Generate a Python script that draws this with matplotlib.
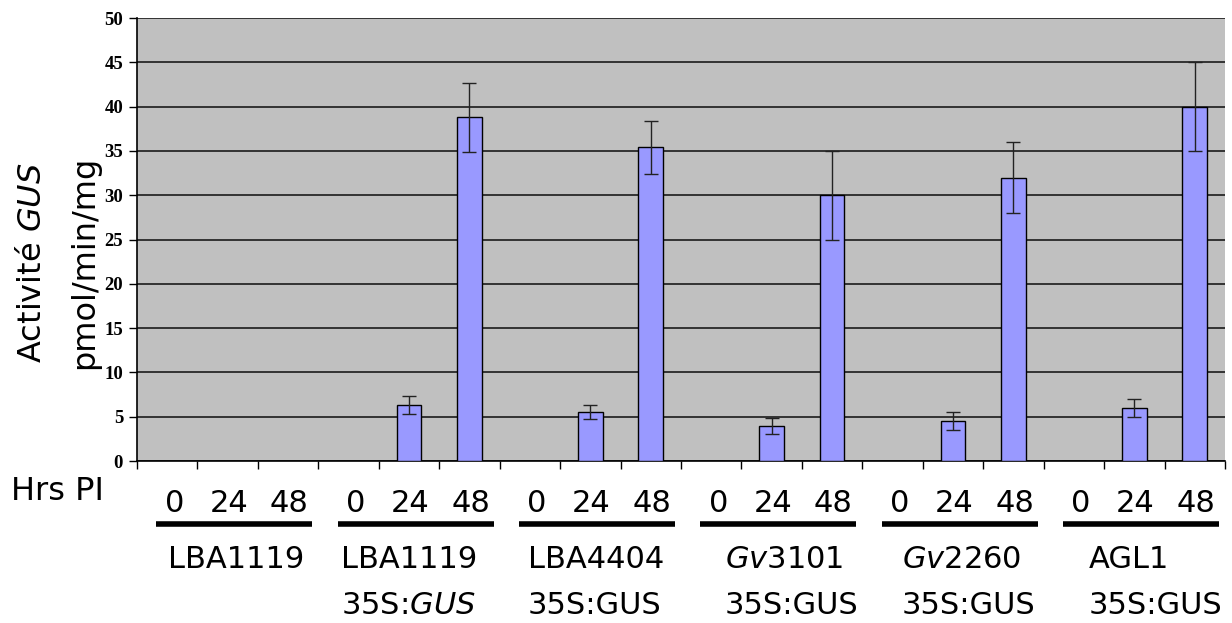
import matplotlib
matplotlib.use('Agg')
import matplotlib.pyplot as plt
import matplotlib.transforms as mtransforms
import numpy as np

# Données
souches = ['LBA1119', 'LBA1119', 'LBA4404', r'$\mathit{Gv}$3101', r'$\mathit{Gv}$2260', 'AGL1']
constructions = ['', r'35S:$\mathit{GUS}$', '35S:GUS', '35S:GUS', '35S:GUS', '35S:GUS']
heures = ['0', '24', '48']

gus_0h = [0, 0, 0, 0, 0, 0]
gus_24h = [0, 6.3, 5.5, 4.0, 4.5, 6.0]
gus_48h = [0, 38.8, 35.4, 30.0, 32.0, 40.0]
err_0h = [0, 0, 0, 0, 0, 0]
err_24h = [0, 1.0, 0.8, 0.9, 1.0, 1.0]
err_48h = [0, 3.9, 3.0, 5.0, 4.0, 5.0]

plt.rcParams['mathtext.fontset'] = 'custom'
plt.rcParams['mathtext.rm'] = 'DejaVu Sans'
plt.rcParams['mathtext.it'] = 'DejaVu Sans:italic'

n = len(souches)
valeurs = np.column_stack([gus_0h, gus_24h, gus_48h]).ravel()
erreurs = np.column_stack([err_0h, err_24h, err_48h]).ravel()
x = np.arange(len(valeurs)) + 0.5

fig = plt.figure(figsize=(12.32, 6.23), dpi=100)
ax = fig.add_axes([0.1112, 0.26, 0.8831, 0.711])
ax.set_facecolor('#c0c0c0')

ax.bar(x, valeurs, width=0.41, color='#9999ff', edgecolor='black', linewidth=1.0, zorder=3)
mask = erreurs > 0
ax.errorbar(x[mask], valeurs[mask], yerr=erreurs[mask], fmt='none', ecolor='#222222',
            elinewidth=1.0, capsize=5, capthick=1.0, zorder=4)

ax.set_xlim(0, len(valeurs))
ax.set_ylim(0, 50)
ax.set_yticks(np.arange(0, 51, 5))
ax.set_xticks(np.arange(0, len(valeurs) + 1))
ax.set_xticklabels([])
ax.grid(axis='y', color='#333333', linewidth=1.4, zorder=1)
ax.set_axisbelow(True)
for s in ['top', 'right']:
    ax.spines[s].set_visible(False)
ax.spines['left'].set_linewidth(1.2)
ax.spines['bottom'].set_linewidth(1.2)
ax.tick_params(axis='both', direction='out', length=6, width=1)
ax.tick_params(axis='y', pad=4)
for lab in ax.get_yticklabels():
    lab.set_fontfamily('Liberation Serif')
    lab.set_fontweight('bold')
    lab.set_fontsize(13.5)

# Étiquettes sous l'axe
trans = mtransforms.blended_transform_factory(ax.transData, fig.transFigure)
fs = 22
fig.text(0.009, 1 - 492 / 623, 'Hrs PI', fontsize=23, va='center', ha='left')
decal_heures = [0.62, 1.52, 2.52]
decal_nom = [0.51, 0.38, 0.47, 0.73, 0.65, 0.75]
for g in range(n):
    base = 3 * g
    for h, d in zip(heures, decal_heures):
        ax.text(base + d, 1 - 503 / 623, h, transform=trans, fontsize=fs,
                ha='center', va='center')
    ax.plot([base + 0.32, base + 2.9], [1 - 524 / 623] * 2, transform=trans,
            color='black', linewidth=4, clip_on=False, solid_capstyle='butt')
    ax.text(base + decal_nom[g], 1 - 559 / 623, souches[g], transform=trans,
            fontsize=fs, ha='left', va='center')
    if constructions[g]:
        ax.text(base + decal_nom[g], 1 - 605 / 623, constructions[g], transform=trans,
                fontsize=fs, ha='left', va='center')

fig.text(0.026, 0.579, r'Activité $\mathit{GUS}$', rotation=90, fontsize=23,
         ha='center', va='center')
fig.text(0.069, 0.579, 'pmol/min/mg', rotation=90, fontsize=23,
         ha='center', va='center')

fig.savefig('out.png', dpi=100)
